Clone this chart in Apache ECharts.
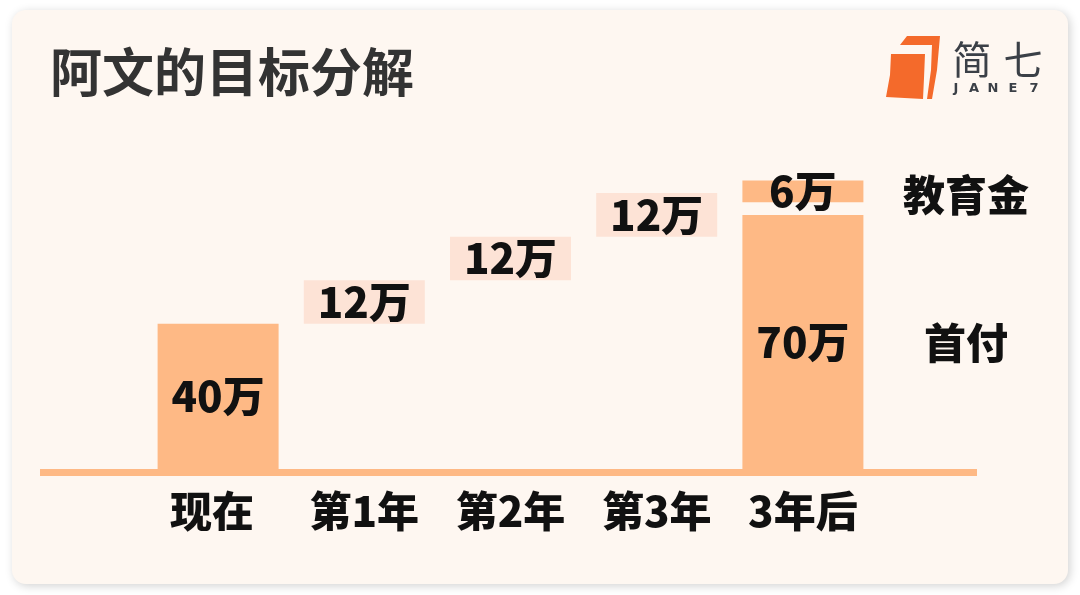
<!DOCTYPE html>
<html>
<head>
<meta charset="utf-8">
<script src="https://cdn.jsdelivr.net/npm/echarts@6/dist/echarts.min.js"></script>
<style>
html,body{margin:0;padding:0;background:#ffffff;}
#main{width:1080px;height:595px;}
</style>
</head>
<body>
<div id="main"></div>
<script>
// ---- data ----
var titleText = '阿文的目标分解';
var categories = ['现在', '第1年', '第2年', '第3年', '3年后'];
var currentSavings = 40;            // 现在
var yearlySavings = [12, 12, 12];   // 第1年..第3年
var downPayment = 70;               // 首付
var educationFund = 6;              // 教育金
var spacer = 3.5;                   // visual gap between 首付 and 教育金
var sideLabels = ['首付', '教育金'];
var unit = '万';

var ORANGE = '#FEB985';
var PINK = '#FDE3D6';
var CARD = '#FEF7F1';
var TEXT = '#111111';

// waterfall offsets
var baseVals = ['-'];
var acc = currentSavings;
yearlySavings.forEach(function (v) { baseVals.push(acc); acc += v; });
baseVals.push('-');

var mainVals = [currentSavings, '-', '-', '-', downPayment];
var pinkVals = ['-'].concat(yearlySavings).concat(['-']);
var gapVals = ['-', '-', '-', '-', spacer];
var eduVals = ['-', '-', '-', '-', educationFund];

var chart = echarts.init(document.getElementById('main'), null, {renderer: 'canvas'});
var FONT = '"Noto Sans CJK SC", "Noto Sans", sans-serif';
var FS = 42;

var valueLabel = {
  show: true,
  position: 'inside',
  color: TEXT,
  fontSize: FS,
  fontWeight: 900,
  fontFamily: FONT,
  formatter: function (p) { return p.value + unit; }
};

var catData = categories.map(function (c, i) {
  return i === 0 ? {value: c, textStyle: {padding: [0, 12, 0, 0]}} : c;
});

var option = {
  backgroundColor: '#ffffff',
  animation: false,
  title: {
    text: titleText,
    left: 45,
    top: 41,
    textStyle: {fontSize: 52, fontWeight: 'bold', color: '#333333', fontFamily: FONT}
  },
  grid: {left: 145, right: 204, top: 106, bottom: 126},
  xAxis: {
    type: 'category',
    data: catData,
    axisLine: {show: false},
    axisTick: {show: false},
    axisLabel: {
      margin: 21,
      fontSize: FS,
      fontWeight: 900,
      color: TEXT,
      fontFamily: FONT
    }
  },
  yAxis: {type: 'value', min: 0, max: 100, show: false, splitLine: {show: false}},
  graphic: [
    {type: 'rect', z: -10, shape: {x: 12, y: 10, width: 1056, height: 574, r: 14},
     style: {fill: CARD, shadowBlur: 10, shadowColor: 'rgba(0,0,0,0.18)', shadowOffsetX: 2, shadowOffsetY: 2}},
    {type: 'rect', z: 1, shape: {x: 40, y: 469, width: 937, height: 7}, style: {fill: ORANGE}},
    // logo icon
    {type: 'polygon', z: 5, shape: {points: [[900,45],[907,36],[940,36],[937,70],[932,99],[927,99],[931,70],[932,45]]}, style: {fill: '#F46A2B'}},
    {type: 'polygon', z: 5, shape: {points: [[891,54],[925,54],[924,78],[923,99],[886,97],[890,75]]}, style: {fill: '#F46A2B'}},
    {type: 'text', z: 5, style: {text: '简', x: 972, y: 59, fontSize: 39, fontFamily: FONT, fontWeight: 'normal', fill: '#3b4047', textAlign: 'center', textVerticalAlign: 'middle'}},
    {type: 'text', z: 5, style: {text: '七', x: 1023, y: 59, fontSize: 39, fontFamily: FONT, fontWeight: 'normal', fill: '#3b4047', textAlign: 'center', textVerticalAlign: 'middle'}},
    {type: 'text', z: 5, style: {text: 'J', x: 956, y: 89, fontSize: 13, fontFamily: 'DejaVu Sans', fontWeight: 'bold', fill: '#3b4047', textAlign: 'center', textVerticalAlign: 'middle'}},
    {type: 'text', z: 5, style: {text: 'A', x: 974, y: 89, fontSize: 13, fontFamily: 'DejaVu Sans', fontWeight: 'bold', fill: '#3b4047', textAlign: 'center', textVerticalAlign: 'middle'}},
    {type: 'text', z: 5, style: {text: 'N', x: 993, y: 89, fontSize: 13, fontFamily: 'DejaVu Sans', fontWeight: 'bold', fill: '#3b4047', textAlign: 'center', textVerticalAlign: 'middle'}},
    {type: 'text', z: 5, style: {text: 'E', x: 1013, y: 89, fontSize: 13, fontFamily: 'DejaVu Sans', fontWeight: 'bold', fill: '#3b4047', textAlign: 'center', textVerticalAlign: 'middle'}},
    {type: 'text', z: 5, style: {text: '7', x: 1034, y: 89, fontSize: 13, fontFamily: 'DejaVu Sans', fontWeight: 'bold', fill: '#3b4047', textAlign: 'center', textVerticalAlign: 'middle'}}
  ],
  series: [
    {name: 'base', type: 'bar', stack: 'w', barWidth: 121, data: baseVals,
     itemStyle: {color: 'transparent'}, silent: true, z: 2},
    {name: '存量', type: 'bar', stack: 'w', barWidth: 121, data: mainVals,
     itemStyle: {color: ORANGE}, label: valueLabel, z: 2},
    {name: '每年储蓄', type: 'bar', stack: 'w', barWidth: 121, data: pinkVals,
     itemStyle: {color: PINK}, label: valueLabel, z: 2},
    {name: 'gap', type: 'bar', stack: 'w', barWidth: 121, data: gapVals,
     itemStyle: {color: 'transparent'}, silent: true, z: 2},
    {name: '教育金', type: 'bar', stack: 'w', barWidth: 121, data: eduVals,
     itemStyle: {color: ORANGE}, label: valueLabel, z: 2}
  ]
};
chart.setOption(option);

// side labels placed from the chart's own scale
var lastIdx = categories.length - 1;
var pDown = chart.convertToPixel({seriesIndex: 1}, [lastIdx, downPayment / 2]);
var pEdu = chart.convertToPixel({seriesIndex: 1}, [lastIdx, downPayment + spacer + educationFund / 2]);
var sideX = pDown[0] + 163;
var g = option.graphic.slice();
g.push({type: 'text', z: 5, style: {text: sideLabels[0], x: sideX, y: pDown[1] + 1, fontSize: FS, fontWeight: 900, fontFamily: FONT, fill: TEXT, textAlign: 'center', textVerticalAlign: 'middle'}});
g.push({type: 'text', z: 5, style: {text: sideLabels[1], x: sideX, y: pEdu[1] + 4, fontSize: FS, fontWeight: 900, fontFamily: FONT, fill: TEXT, textAlign: 'center', textVerticalAlign: 'middle'}});
chart.setOption({graphic: g});
</script>
</body>
</html>
